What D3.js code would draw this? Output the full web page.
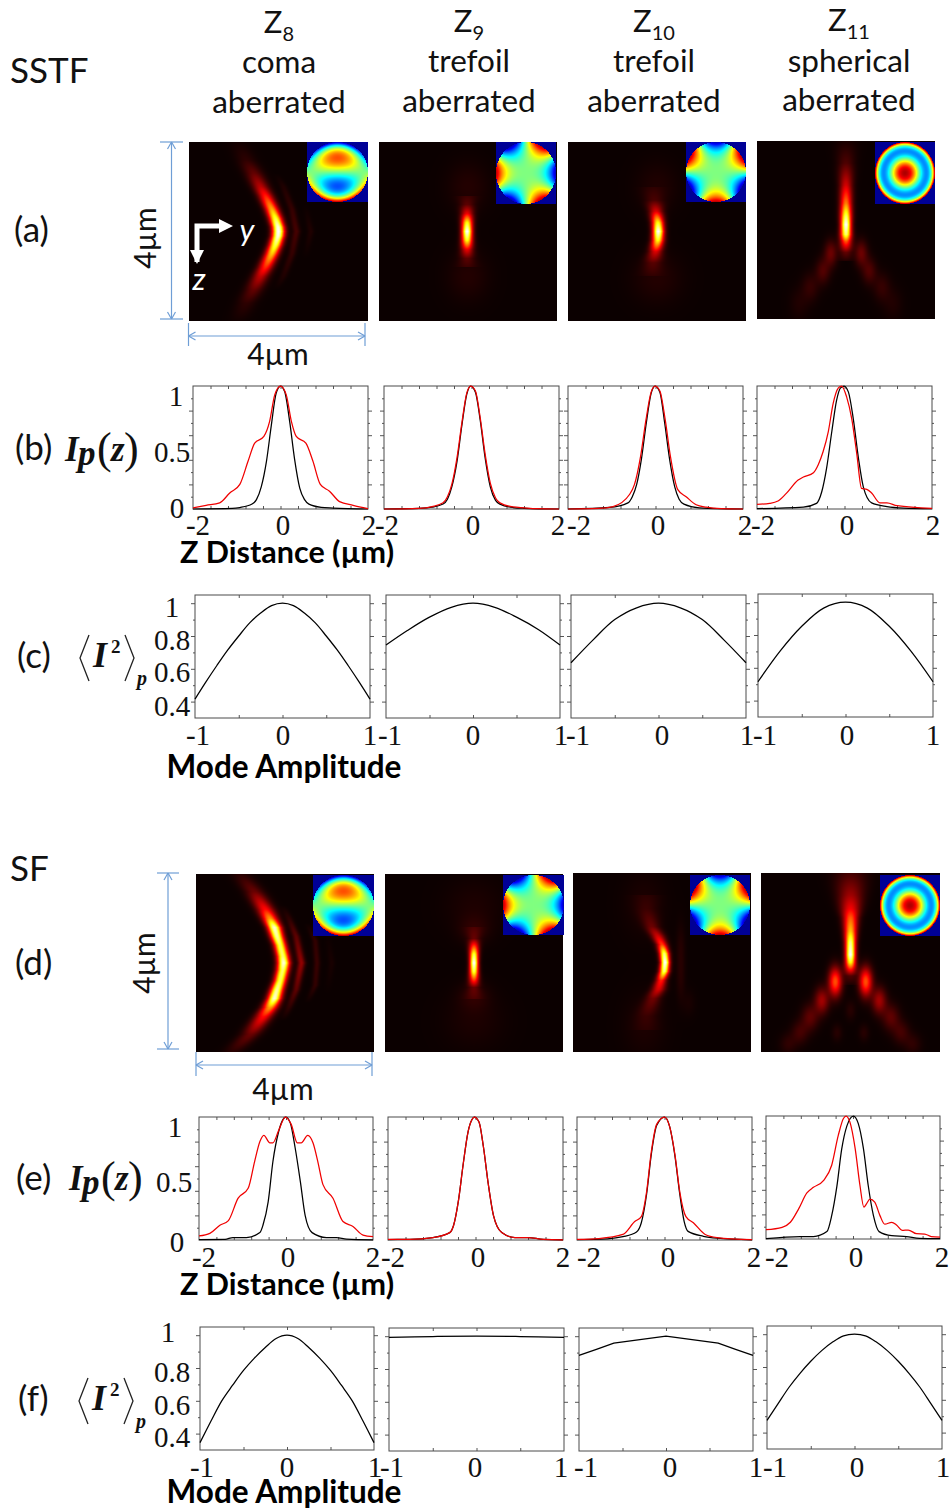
<!DOCTYPE html>
<html><head><meta charset="utf-8">
<style>html,body{margin:0;padding:0;background:#fff}svg{display:block}</style>
<script src="https://cdn.jsdelivr.net/npm/d3@7/dist/d3.min.js"></script>
</head><body>
<svg id="chart" width="950" height="1510"></svg>
<script>
// ---------- DATA ----------
const columnHead = ["coma","trefoil","trefoil","spherical"];
const zernikeIdx = ["8","9","10","11"];
const zTickLabels = [-2,0,2];
const modeTickLabels = [-1,0,1];
const ipTickLabels = ["1","0.5","0"];
const m2TickLabels = ["1","0.8","0.6","0.4"];

const b1Black=[[-2,0],[-1.1,.005],[-.93,.012],[-.65,.04],[-.55,.076],[-.44,.18],[-.32,.39],[-.21,.68],[-.1,.94],[0,1],[.095,.955],[.21,.71],[.32,.41],[.44,.17],[.55,.076],[.65,.04],[.93,.014],[1.2,.008],[2,0]];
const b1Red=[[-2,.01],[-1.7,.03],[-1.39,.05],[-1.16,.13],[-.93,.2],[-.74,.39],[-.59,.535],[-.38,.59],[-.25,.71],[-.13,.93],[0,1],[.13,.93],[.25,.71],[.36,.59],[.58,.535],[.74,.39],[.91,.2],[1.12,.145],[1.35,.06],[1.66,.03],[2,.003]];
const b2Black=[[-2,0],[-1.2,.005],[-.9,.015],[-.65,.04],[-.55,.08],[-.45,.18],[-.33,.39],[-.22,.68],[-.11,.93],[-.02,1],[.09,.95],[.2,.72],[.31,.42],[.43,.18],[.55,.07],[.65,.04],[.95,.012],[1.2,.006],[2,0]];
const b2Red=[[-2,0],[-1.2,.006],[-.9,.02],[-.65,.05],[-.55,.1],[-.45,.2],[-.33,.42],[-.22,.7],[-.11,.94],[-.02,1],[.09,.96],[.2,.74],[.31,.45],[.43,.21],[.55,.09],[.65,.05],[.95,.017],[1.2,.01],[1.5,.003],[2,0]];
const b3Black=[[-2,0],[-1.05,.013],[-.63,.05],[-.53,.1],[-.43,.2],[-.32,.41],[-.21,.7],[-.1,.94],[-.01,1],[.1,.95],[.21,.7],[.32,.41],[.44,.18],[.54,.08],[.65,.04],[1,.01],[2,0]];
const b3Red=[[-2,0],[-1.3,.005],[-.97,.02],[-.59,.12],[-.48,.2],[-.34,.43],[-.22,.72],[-.1,.95],[-.01,1],[.1,.96],[.22,.73],[.34,.43],[.51,.157],[.7,.1],[.93,.035],[1.16,.015],[1.5,.003],[2,0]];
const b4Black=[[-2,.003],[-.94,.016],[-.64,.046],[-.52,.14],[-.41,.33],[-.29,.63],[-.18,.885],[-.09,.985],[-.01,1],[.09,.95],[.2,.735],[.32,.41],[.43,.18],[.62,.05],[.97,.02],[1.35,.008],[2,.003]];
const b4Red=[[-2,.038],[-1.71,.046],[-1.52,.065],[-1.33,.127],[-1.06,.235],[-.94,.26],[-.71,.295],[-.6,.36],[-.49,.465],[-.37,.63],[-.26,.857],[-.14,.985],[-.065,1],[.05,.91],[.165,.735],[.28,.45],[.39,.167],[.51,.16],[.62,.13],[.81,.05],[.97,.05],[1.2,.027],[2,.005]];

const e1Black=[[-2,.003],[-1.4,.005],[-1.22,.02],[-.91,.02],[-.6,.06],[-.53,.12],[-.41,.31],[-.3,.64],[-.17,.88],[-.05,.99],[0,1],[.1,.95],[.21,.75],[.33,.475],[.44,.2],[.6,.06],[.93,.02],[1.16,.02],[1.39,.008],[2,.002]];
const e1Red=[[-2,.033],[-1.75,.054],[-1.52,.12],[-1.33,.155],[-1.1,.34],[-.87,.42],[-.72,.64],[-.6,.8],[-.51,.85],[-.37,.79],[-.3,.79],[-.17,.89],[-.015,1],[.12,.94],[.26,.79],[.35,.79],[.5,.85],[.62,.79],[.73,.64],[.85,.45],[1.08,.34],[1.31,.15],[1.54,.11],[1.77,.04],[2,.027]];
const e2Black=[[-2,.004],[-1.5,.005],[-.97,.02],[-.59,.06],[-.5,.12],[-.39,.32],[-.28,.62],[-.17,.88],[-.08,.98],[-.03,1],[.08,.96],[.18,.76],[.29,.46],[.41,.2],[.6,.06],[.9,.02],[1.2,.02],[1.55,.005],[2,.002]];
const e2Red=[[-2,.005],[-1.5,.006],[-.97,.02],[-.59,.06],[-.5,.12],[-.39,.32],[-.28,.62],[-.17,.88],[-.08,.98],[-.03,1],[.08,.96],[.18,.76],[.29,.46],[.41,.2],[.6,.06],[.9,.02],[1.2,.02],[1.55,.005],[2,.002]];
const e3Black=[[-2,.004],[-1.3,.01],[-.95,.027],[-.64,.065],[-.53,.14],[-.41,.37],[-.3,.7],[-.18,.93],[0,1],[.12,.92],[.24,.68],[.35,.37],[.45,.15],[.54,.07],[.89,.03],[1.2,.015],[2,.002]];
const e3Red=[[-2,.005],[-1.5,.012],[-.95,.045],[-.68,.15],[-.53,.19],[-.41,.39],[-.3,.72],[-.18,.94],[0,1],[.12,.92],[.24,.69],[.35,.39],[.49,.19],[.66,.14],[.93,.045],[1.2,.02],[2,.003]];
const e4Black=[[-2,.003],[-1.21,.02],[-.91,.02],[-.6,.06],[-.49,.19],[-.37,.43],[-.26,.73],[-.14,.92],[.01,1],[.12,.94],[.24,.735],[.35,.435],[.47,.19],[.6,.06],[.89,.027],[1.23,.02],[1.53,.005],[2,.003]];
const e4Red=[[-2,.076],[-1.63,.095],[-1.44,.136],[-1.25,.245],[-1.06,.375],[-.91,.42],[-.68,.475],[-.49,.6],[-.34,.84],[-.22,.98],[-.16,1],[-.07,.95],[.05,.735],[.16,.435],[.25,.26],[.31,.285],[.39,.325],[.5,.3],[.62,.19],[.73,.12],[.89,.136],[1,.114],[1.13,.07],[1.27,.073],[1.46,.043],[1.65,.04],[1.8,.02],[2,.016]];

const c1Line=[[-1,.415],[-.875,.52],[-.75,.62],[-.625,.715],[-.5,.8],[-.375,.88],[-.25,.94],[-.125,.985],[0,1],[.125,.985],[.25,.94],[.375,.88],[.5,.8],[.625,.715],[.75,.62],[.875,.52],[1,.415]];
const c2Line=[[-1,.745],[-.75,.835],[-.5,.915],[-.25,.975],[0,1],[.25,.975],[.5,.915],[.75,.84],[1,.745]];
const c3Line=[[-1,.637],[-.75,.775],[-.5,.9],[-.25,.972],[0,1],[.25,.972],[.5,.9],[.75,.775],[1,.637]];
const c4Line=[[-1,.515],[-.75,.7],[-.5,.853],[-.25,.964],[0,1],[.25,.964],[.5,.853],[.75,.7],[1,.515]];
const f1Line=[[-1,.345],[-.875,.475],[-.75,.6],[-.625,.695],[-.5,.785],[-.375,.86],[-.25,.925],[-.125,.98],[0,1],[.125,.98],[.25,.925],[.375,.86],[.5,.785],[.625,.695],[.75,.6],[.875,.475],[1,.345]];
const f2Line=[[-1,.993],[-.5,.998],[0,1],[.5,.998],[1,.993]];
const f3Line=[[-1,.883],[-.8,.92],[-.6,.958],[0,1],[.6,.958],[.8,.92],[1,.883]];
const f4Line=[[-1,.475],[-.875,.575],[-.75,.675],[-.625,.76],[-.5,.835],[-.375,.9],[-.25,.952],[-.125,.99],[0,1],[.125,.99],[.25,.952],[.375,.9],[.5,.835],[.625,.76],[.75,.675],[.875,.575],[1,.475]];

// Heat maps: ridges are knot lists [z, y, amplitude, width] and spots [y, z, amplitude, sy, sz], in µm
const heatA1={ridges:[
 [[-2,-.9,.01,.16],[-1.6,-.72,.05,.15],[-1.3,-.55,.13,.14],[-1,-.4,.26,.125],[-.8,-.29,.4,.115],[-.5,-.15,.62,.105],[-.3,-.07,.8,.1],[-.1,-.01,.97,.095],[0,0,1,.095],[.1,-.01,.97,.095],[.3,-.07,.82,.1],[.5,-.15,.66,.105],[.8,-.29,.42,.115],[1,-.4,.27,.125],[1.3,-.55,.13,.14],[1.6,-.72,.05,.15],[2,-.9,.01,.16]],
 [[-1.3,-.05,0,.06],[-1,.11,.03,.06],[-.5,.3,.06,.06],[0,.4,.085,.06],[.5,.3,.06,.06],[1,.11,.03,.06],[1.3,-.05,0,.06]],
 [[-.6,.6,0,.05],[0,.72,.03,.05],[.6,.6,0,.05]]],spots:[]};
const heatA2={ridges:[
 [[-.8,-.02,.04,.14],[-.6,-.02,.1,.11],[-.4,-.02,.33,.095],[-.2,-.02,.75,.085],[0,-.02,1,.08],[.2,-.02,.75,.085],[.4,-.02,.33,.095],[.6,-.02,.1,.11],[.8,-.02,.04,.14]]],
 spots:[[0,-1,.035,.32,.38],[0,1,.035,.32,.38]]};
const heatA3={ridges:[
 [[-1,-.1,.02,.17],[-.7,-.06,.07,.14],[-.45,-.02,.3,.105],[-.2,.02,.75,.09],[0,.03,1,.085],[.2,.02,.75,.09],[.45,-.03,.3,.105],[.7,-.09,.09,.14],[1,-.12,.02,.17]]],
 spots:[[0,-1,.03,.32,.38],[0,1.05,.035,.38,.38]]};
const heatA4={ridges:[
 [[-2,0,.02,.18],[-1.5,0,.1,.13],[-1,0,.3,.1],[-.6,0,.55,.09],[-.3,0,.85,.085],[-.12,0,1,.08],[.1,0,.85,.085],[.25,0,.5,.09],[.5,0,.13,.1],[.7,0,.03,.11]]],
 spots:[[-.34,.52,.14,.1,.2],[.34,.52,.14,.1,.2],[-.52,.92,.1,.11,.2],[.52,.92,.1,.11,.2],[-.8,1.28,.06,.13,.22],[.8,1.28,.06,.13,.22],[-1.05,1.65,.03,.15,.25],[1.05,1.65,.03,.15,.25]]};
const heatD1={ridges:[
 [[-2,-1,.04,.16],[-1.6,-.69,.14,.15],[-1.2,-.44,.38,.135],[-1,-.34,.6,.12],[-.8,-.24,.95,.105],[-.6,-.18,.9,.1],[-.4,-.11,.82,.095],[-.15,-.05,.85,.095],[0,-.03,.96,.095],[.15,-.05,.85,.095],[.4,-.11,.82,.095],[.6,-.18,.9,.1],[.8,-.24,.95,.105],[1,-.34,.6,.12],[1.2,-.48,.38,.135],[1.6,-.77,.14,.15],[2,-1.18,.04,.16]],
 [[-1.3,-.05,0,.06],[-1,.09,.05,.06],[-.6,.25,.12,.06],[0,.37,.2,.06],[.6,.25,.12,.06],[1,.09,.05,.06],[1.3,-.05,0,.06]],
 [[-.9,.5,0,.05],[-.5,.68,.055,.05],[0,.72,.065,.05],[.5,.68,.055,.05],[.9,.5,0,.05]],
 [[-.7,.95,0,.05],[0,1.05,.02,.05],[.7,.95,0,.05]]],spots:[]};
const heatD2={ridges:[
 [[-.8,0,.04,.13],[-.55,0,.1,.09],[-.4,0,.4,.08],[-.2,0,.8,.07],[0,0,1,.065],[.2,0,.8,.07],[.4,0,.4,.08],[.55,0,.1,.09],[.8,0,.04,.13]]],
 spots:[[0,-.75,.045,.24,.22],[0,.75,.045,.24,.22],[0,-1.3,.025,.45,.42],[0,1.3,.025,.45,.42]]};
const heatD3={ridges:[
 [[-1.5,-.35,.025,.2],[-1.2,-.35,.045,.16],[-.8,-.23,.13,.12],[-.6,-.1,.28,.105],[-.4,0,.45,.085],[-.2,.05,.85,.075],[0,.07,1,.07],[.2,.05,.85,.075],[.4,-.02,.4,.085],[.6,-.08,.3,.105],[.8,-.2,.14,.12],[1.2,-.35,.045,.16],[1.5,-.35,.025,.2]]],
 spots:[[.42,-.3,.035,.07,.4],[.42,.4,.03,.07,.35],[.6,.9,.02,.1,.2],[-.4,-1.3,.025,.32,.5],[-.4,1.4,.025,.32,.5]]};
const heatD4={ridges:[
 [[-2,0,.08,.26],[-1.5,0,.22,.19],[-1.2,0,.35,.15],[-1,0,.5,.115],[-.7,0,.65,.095],[-.45,0,.88,.08],[-.17,0,1,.075],[0,0,.75,.08],[.15,0,.4,.09],[.3,0,.1,.1],[.5,0,.02,.11]]],
 spots:[[-.34,.43,.48,.1,.22],[.34,.43,.48,.1,.22],[-.64,.85,.22,.11,.2],[.64,.85,.22,.11,.2],[-.9,1.22,.12,.13,.2],[.9,1.22,.12,.13,.2],[-1.13,1.56,.08,.13,.18],[1.13,1.56,.08,.13,.18],[-1.39,1.82,.05,.13,.16],[1.39,1.82,.05,.13,.16],[0,1.07,.04,.08,.15],[-.3,1.57,.04,.08,.13],[.3,1.57,.04,.08,.13]]};

// Insets: Zernike radial power coefficients [r^1, r^2, r^3, r^4] and azimuth term of each wavefront map
const insetModes=[
 {radial:[2,0,-3,0],m:1,phase:"sin"},
 {radial:[0,0,-1,0],m:3,phase:"cos"},
 {radial:[0,0,1,0],m:3,phase:"sin"},
 {radial:[0,-6,0,6],m:0,phase:"const",offset:1}];

// ---------- LAYOUT ----------
const heatRowA=[[189,142,179,179,307,142,61,60],[379,142,178,179,496,142,60,62],[568,142,178,179,686,142,60,60],[757,141,178,178,875,142,60,62]];
const heatRowD=[[196,874,178,178,313,875,61,61],[385,874,178,178,503,875,61,60],[573,873,178,179,690,875,60,60],[761,873,179,179,880,875,60,61]];
const boxB=[[193,386,175,123],[384,386,175,123],[568,386,175,123],[757,386,175,123]];
const boxE=[[199,1117,174,123],[388,1117,175,123],[577,1117,175,123],[766,1116,174,123]];
const boxC=[[195,595,175,123],[386,595,174,123],[571,595,175,123],[758,594,175,123]];
const boxF=[[200,1327,174,123],[389,1328,175,123],[579,1328,174,123],[767,1326,175,123]];
const labelsB=[[198,283,369],[387,473,558],[579,658,745],[763,847,933]];
const labelsE=[[204,288,373],[393,478,563],[589,668,754],[777,856,942]];
const labelsC=[[198,283,370],[390,473,561],[578,662,747],[765,847,933]];
const labelsF=[[202,287,375],[392,475,561],[586,670,756],[775,857,943]];

const SANS='Lato, "Open Sans", sans-serif', SERIF='"Liberation Serif", serif';
const svg=d3.select("#chart");

function txt(s,x,y,size,opt={}){
  return svg.append("text").attr("x",x).attr("y",y).attr("font-size",size)
    .attr("font-family",opt.family||SANS).attr("font-weight",opt.weight||400).attr("font-style",opt.style||"normal")
    .attr("text-anchor",opt.anchor||"middle").attr("fill",opt.fill||"#111")
    .attr("transform",opt.rotate?`rotate(${opt.rotate} ${x} ${y})`:null).text(s);
}

// ---------- heat maps ----------
const hot=d3.scaleLinear().domain([0,.365,.746,1]).range(["#0b0000","#ff0000","#ffff00","#ffffff"]).clamp(true);
const jet=d3.scaleLinear().domain([-1,-.75,-.25,.25,.75,1]).range(["#00009a","#0000ff","#00ffff","#ffff00","#ff0000","#9a0000"]).clamp(true);

function drawHeat(field,box){
  const [px,py,w,h]=box;
  const cv=document.createElement("canvas");cv.width=w;cv.height=h;
  const ctx=cv.getContext("2d");
  const yS=d3.scaleLinear().domain([0,w]).range([-2,2]);
  const zS=d3.scaleLinear().domain([0,h]).range([-2,2]);
  const ridgeFn=field.ridges.map(r=>{
    const zs=r.map(k=>k[0]);
    const mk=i=>d3.scaleLinear().domain(zs).range(r.map(k=>k[i])).clamp(true);
    return {cy:mk(1),amp:mk(2),wd:mk(3),lo:zs[0],hi:zs[zs.length-1]};
  });
  for(let j=0;j<h;j++){
    const z=zS(j+.5);
    const rows=ridgeFn.filter(f=>z>=f.lo&&z<=f.hi).map(f=>({c:f.cy(z),a:f.amp(z),s:f.wd(z)}));
    for(let i=0;i<w;i++){
      const y=yS(i+.5);let v=0;
      rows.forEach(q=>{const d=(y-q.c)/q.s;v+=q.a*Math.exp(-.5*d*d);});
      field.spots.forEach(q=>{const a=(y-q[0])/q[3],b=(z-q[1])/q[4];v+=q[2]*Math.exp(-.5*(a*a+b*b));});
      ctx.fillStyle=hot(v);ctx.fillRect(i,j,1,1);
    }
  }
  svg.append("image").attr("x",px).attr("y",py).attr("width",w).attr("height",h).attr("href",cv.toDataURL());
}
function drawInset(mode,px,py,w,h){
  const cv=document.createElement("canvas");cv.width=w;cv.height=h;
  const ctx=cv.getContext("2d");
  const xs=d3.scaleLinear().domain([0,w]).range([-1,1]);
  const ys=d3.scaleLinear().domain([0,h]).range([1,-1]);
  for(let j=0;j<h;j++)for(let i=0;i<w;i++){
    const X=xs(i+.5),Y=ys(j+.5),r=Math.hypot(X,Y),t=Math.atan2(Y,X);
    let col="#000096";
    if(r<=1){
      const R=d3.sum(mode.radial,(c,k)=>c*Math.pow(r,k+1))+(mode.offset||0);
      const A=mode.phase==="sin"?Math.sin(mode.m*t):mode.phase==="cos"?Math.cos(mode.m*t):1;
      col=jet(R*A*.95);
    }
    ctx.fillStyle=col;ctx.fillRect(i,j,1,1);
  }
  svg.append("image").attr("x",px).attr("y",py).attr("width",w).attr("height",h).attr("href",cv.toDataURL());
}
[heatA1,heatA2,heatA3,heatA4].forEach((f,i)=>{const b=heatRowA[i];drawHeat(f,b);drawInset(insetModes[i],b[4],b[5],b[6],b[7]);});
[heatD1,heatD2,heatD3,heatD4].forEach((f,i)=>{const b=heatRowD[i];drawHeat(f,b);drawInset(insetModes[i],b[4],b[5],b[6],b[7]);});

// ---------- line plots ----------
const lineOf=(x,y,curve)=>d3.line().x(d=>x(d[0])).y(d=>y(d[1])).curve(curve);
function innerTicks(g,axis,scale,vals,len,tx,ty){
  const a=g.append("g").attr("transform",`translate(${tx},${ty})`)
    .call(axis(scale).tickValues(vals).tickSizeInner(-len).tickSizeOuter(0).tickFormat(""));
  a.select(".domain").remove();
  a.selectAll("line").attr("stroke","#555").attr("stroke-width",1);
}
function plot(box,xDom,yDom,xT,yMajor,yMinor,curves,curve=d3.curveMonotoneX){
  const [l,t,w,h]=box;
  const x=d3.scaleLinear().domain(xDom).range([l,l+w]);
  const y=d3.scaleLinear().domain(yDom).range([t+h,t]);
  const g=svg.append("g");
  innerTicks(g,d3.axisBottom,x,xT,3,0,t+h);
  innerTicks(g,d3.axisTop,x,xT,3,0,t);
  innerTicks(g,d3.axisRight,y,yMajor,4,l,0);
  innerTicks(g,d3.axisLeft,y,yMajor,4,l+w,0);
  innerTicks(g,d3.axisRight,y,yMinor,2,l,0);
  innerTicks(g,d3.axisLeft,y,yMinor,2,l+w,0);
  g.append("rect").attr("x",l).attr("y",t).attr("width",w).attr("height",h).attr("fill","none").attr("stroke","#4a4a4a").attr("stroke-width",1);
  curves.forEach(c=>g.append("path").datum(c.d).attr("d",lineOf(x,y,curve)).attr("fill","none").attr("stroke",c.s).attr("stroke-width",1.25));
}
const zT=d3.range(-1.6,1.7,.4), mT=[-.5,0,.5];
const ipMaj=[.2,.4,.6,.8], ipMin=[.1,.3,.5,.7,.9];
const m2Maj=[1,.8,.6,.4], m2Min=[.9,.7,.5];
[[b1Black,b1Red],[b2Black,b2Red],[b3Black,b3Red],[b4Black,b4Red]].forEach((p,i)=>
  plot(boxB[i],[-2,2],[0,1],zT,ipMaj,ipMin,[{d:p[0],s:"#000"},{d:p[1],s:"#f00000"}]));
[[e1Black,e1Red],[e2Black,e2Red],[e3Black,e3Red],[e4Black,e4Red]].forEach((p,i)=>
  plot(boxE[i],[-2,2],[0,1],zT,ipMaj,ipMin,[{d:p[0],s:"#000"},{d:p[1],s:"#f00000"}]));
[c1Line,c2Line,c3Line,c4Line].forEach((d,i)=>plot(boxC[i],[-1,1],[.3,1.05],mT,m2Maj,m2Min,[{d,s:"#000"}],d3.curveCatmullRom));
[f1Line,f2Line,f3Line,f4Line].forEach((d,i)=>plot(boxF[i],[-1,1],[.3,1.05],mT,m2Maj,m2Min,[{d,s:"#000"}],i===2?d3.curveLinear:d3.curveCatmullRom));

// ---------- tick labels ----------
const num=(s,x,y)=>txt(s,x,y,29,{family:SERIF,fill:"#111"});
labelsB.forEach(r=>r.forEach((x,i)=>num(zTickLabels[i],x,535)));
labelsE.forEach(r=>r.forEach((x,i)=>num(zTickLabels[i],x,1267)));
labelsC.forEach(r=>r.forEach((x,i)=>num(modeTickLabels[i],x,745)));
labelsF.forEach(r=>r.forEach((x,i)=>num(modeTickLabels[i],x,1477)));
[[176,406],[172,462],[177,518]].forEach((p,i)=>num(ipTickLabels[i],p[0],p[1]));
[[175,1137],[174,1192],[177,1252]].forEach((p,i)=>num(ipTickLabels[i],p[0],p[1]));
[[172,617],[172,650],[172,682],[172,716]].forEach((p,i)=>num(m2TickLabels[i],p[0],p[1]));
[[168,1342],[172,1382],[172,1415],[172,1447]].forEach((p,i)=>num(m2TickLabels[i],p[0],p[1]));

// ---------- headings ----------
const colX=[279,469,654,849], zY=[33,32,32,31], hY=[73,72,72,72], aY=[113,112,112,111];
colX.forEach((x,i)=>{
  const t=svg.append("text").attr("x",x).attr("y",zY[i]).attr("text-anchor","middle").attr("font-family",SANS).attr("font-size",31).attr("fill","#111");
  t.append("tspan").text("Z");
  t.append("tspan").attr("dy",8).attr("font-size",20).text(zernikeIdx[i]);
  txt(columnHead[i],x,hY[i],31.5);
  txt("aberrated",x,aY[i],31.5);
});
txt("SSTF",10,83,35,{anchor:"start"});
txt("SF",10,881,35,{anchor:"start"});
[["(a)",14,242],["(b)",15,460],["(c)",17,668],["(d)",15,975],["(e)",16,1190],["(f)",18,1411]].forEach(d=>txt(d[0],d[1],d[2],35,{anchor:"start"}));
[[563,"Z Distance (µm)"],[1295,"Z Distance (µm)"]].forEach(d=>txt(d[1],287,d[0],30.5,{weight:700,fill:"#000"}));
[[778,"Mode Amplitude"],[1503,"Mode Amplitude"]].forEach(d=>txt(d[1],284,d[0],31.5,{weight:700,fill:"#000"}));

// ---------- math labels ----------
const BI={family:SERIF,weight:700,style:"italic",anchor:"start",fill:"#111"};
function ipLabel(x,y){
  txt("I",x,y,35,BI); txt("p",x+13,y+4,35,BI);
  txt("(",x+32,y+2,44,{family:SERIF,anchor:"start"});
  txt("z",x+46,y,35,BI);
  txt(")",x+59,y+2,44,{family:SERIF,anchor:"start"});
}
ipLabel(65,461); ipLabel(69,1190);
function bracketLabel(x,y,base){
  const br=d3.line();
  svg.append("path").attr("d",br([[x+9,y-23],[x,y],[x+9,y+23]])).attr("fill","none").attr("stroke","#222").attr("stroke-width",1.3);
  svg.append("path").attr("d",br([[x+45,y-23],[x+54,y],[x+45,y+23]])).attr("fill","none").attr("stroke","#222").attr("stroke-width",1.3);
  txt("I",x+13,base,36,BI);
  txt("2",x+31,base-14,19,{family:SERIF,weight:700,anchor:"start"});
  txt("p",x+57,base+18,20,BI);
}
bracketLabel(80,658,667); bracketLabel(79,1401,1410);

// ---------- arrows and dimension marks ----------
const BLUE="#6f9ed6";
function seg(a,b,c,d,col=BLUE,wd=1.2){svg.append("line").attr("x1",a).attr("y1",b).attr("x2",c).attr("y2",d).attr("stroke",col).attr("stroke-width",wd);}
function dims(vx,vt,vb,capL,capR,hy,hl,hr,capT,capB){
  seg(capL,vt,capR,vt); seg(capL,vb,capR,vb); seg(vx,vt,vx,vb);
  [[vt,1],[vb,-1]].forEach(([v,s])=>{seg(vx,v,vx-4,v+s*7);seg(vx,v,vx+4,v+s*7);});
  seg(hl,capT,hl,capB); seg(hr,capT,hr,capB); seg(hl,hy,hr,hy);
  [[hl,1],[hr,-1]].forEach(([v,s])=>{seg(v,hy,v+s*7,hy-4);seg(v,hy,v+s*7,hy+4);});
}
dims(171.5,142,319,160,183,336,188.5,365,323,346);
dims(168,873,1049,157,179,1065,196,372,1052,1076);
txt("4µm",278,365,30); txt("4µm",283,1100,30);
txt("4µm",156,238,30,{rotate:-90}); txt("4µm",155,963,30,{rotate:-90});

// white y/z axes in first panel
const W="#fff";
svg.append("path").attr("d","M197 262V226H222").attr("fill","none").attr("stroke",W).attr("stroke-width",5);
svg.append("path").attr("d","M219 219L233 226L219 233Z").attr("fill",W);
svg.append("path").attr("d","M190 250L197 264L204 250Z").attr("fill",W);
txt("y",247,241,31,{style:"italic",fill:W});
txt("z",199,290,31,{style:"italic",fill:W});
</script>
</body></html>
